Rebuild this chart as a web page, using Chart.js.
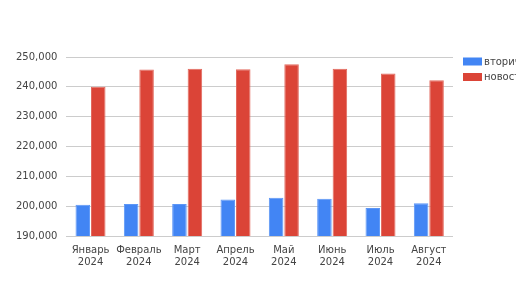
<!DOCTYPE html>
<html>
<head>
<meta charset="utf-8">
<script src="https://cdn.jsdelivr.net/npm/chart.js@4.4.1/dist/chart.umd.min.js"></script>
<style>
  html, body { margin: 0; padding: 0; background: #fff; }
  #wrap { width: 516px; height: 290px; }
</style>
</head>
<body>
<div id="wrap"><canvas id="c" width="516" height="290"></canvas></div>
<script>
const MONTHS = ['Январь', 'Февраль', 'Март', 'Апрель', 'Май', 'Июнь', 'Июль', 'Август'];
const YEAR = '2024';
const SERIES_NAMES = ['вторичка', 'новостройки'];
const SECONDARY = [200500, 200700, 200700, 202200, 202800, 202500, 199400, 201000];
const NEW_BUILD = [240000, 245800, 246100, 245900, 247600, 246100, 244500, 242200];

const TEXT = '#444';
const FONT = { family: 'DejaVu Sans', size: 10 };

// legend drawn by hand so it runs off the right edge like the original
const sideLegend = {
  id: 'sideLegend',
  afterDraw(chart) {
    const ctx = chart.ctx;
    const x = chart.chartArea.right + 10;
    ctx.save();
    ctx.font = '10px "DejaVu Sans"';
    ctx.textBaseline = 'middle';
    chart.data.datasets.forEach((ds, i) => {
      const y = chart.chartArea.top + 0.5 + i * 15.5;
      ctx.fillStyle = ds.backgroundColor;
      ctx.fillRect(x, y, 19, 8);
      ctx.fillStyle = TEXT;
      ctx.fillText(ds.label, x + 21, y + 4.5);
    });
    ctx.restore();
  },
};

new Chart(document.getElementById('c'), {
  type: 'bar',
  data: {
    labels: MONTHS.map(m => [m, YEAR]),
    datasets: [
      { label: SERIES_NAMES[0], data: SECONDARY, backgroundColor: '#4285f4', borderColor: '#5c96f6', borderWidth: 1, borderSkipped: 'bottom',
        categoryPercentage: 0.64, barPercentage: 0.94 },
      { label: SERIES_NAMES[1], data: NEW_BUILD, backgroundColor: '#db4437', borderColor: '#e26a5f', borderWidth: 1, borderSkipped: 'bottom',
        categoryPercentage: 0.64, barPercentage: 0.94 },
    ],
  },
  options: {
    responsive: false, animation: false,
    layout: { padding: { top: 57, right: 63, left: 7, bottom: 21 } },
    plugins: { legend: { display: false }, tooltip: { enabled: false } },
    scales: {
      x: {
        grid: { display: false },
        border: { display: false },
        ticks: { color: TEXT, font: { ...FONT, lineHeight: 1.25 }, maxRotation: 0, autoSkip: false, padding: 0 },
      },
      y: {
        min: 190000, max: 250000,
        border: { display: false },
        grid: {
          color: c => (c.tick.value % 10000 === 0 ? '#cccccc' : '#ebebeb'),
          drawTicks: false,
        },
        ticks: {
          stepSize: 5000, color: TEXT, font: FONT, padding: 9,
          callback: v => (v % 10000 === 0 ? v.toLocaleString('en-US') : ''),
        },
      },
    },
  },
  plugins: [sideLegend],
});
</script>
</body>
</html>
